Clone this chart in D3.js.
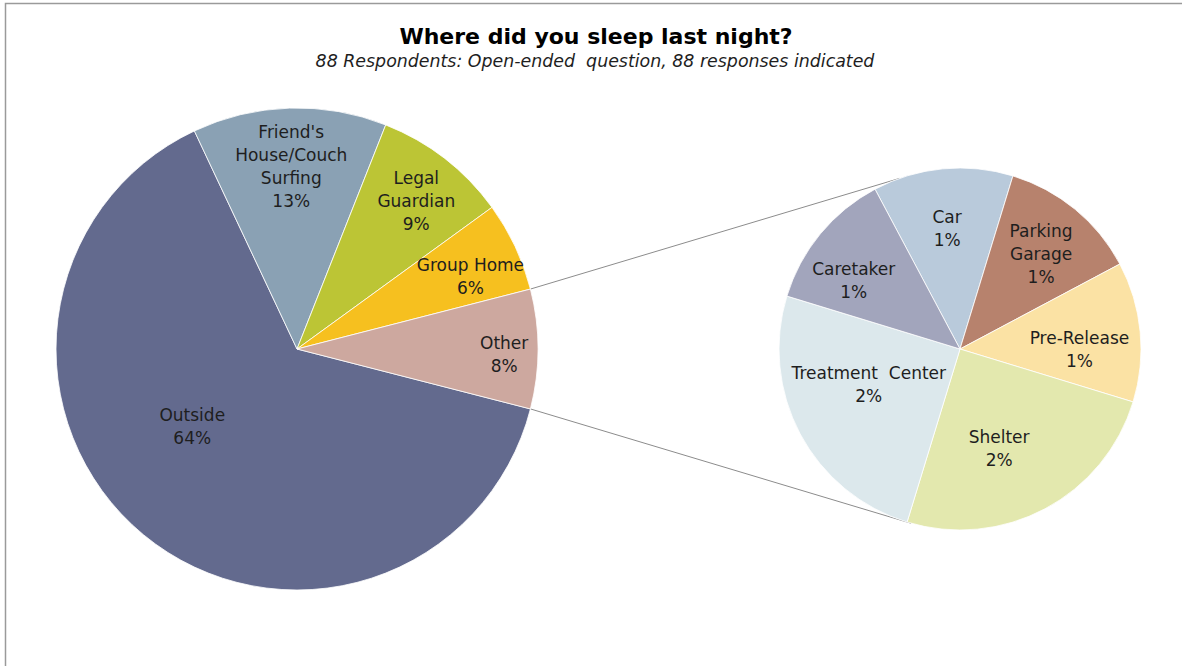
<!DOCTYPE html>
<html>
<head>
<meta charset="utf-8">
<script src="https://cdn.jsdelivr.net/npm/d3@7/dist/d3.min.js"></script>
<style>
  html, body { margin: 0; padding: 0; background: #fff; }
  svg { display: block; }
  text { font-family: "DejaVu Sans", sans-serif; fill: #1e1e1e; white-space: pre; }
</style>
</head>
<body>
<svg id="chart" width="1182" height="666"></svg>
<script>
// Where respondents slept: primary breakdown (percent of responses)
const mainCategories = ["Outside", "Friend's House/Couch Surfing", "Legal Guardian", "Group Home", "Other"];
const mainValues = [64, 13, 9, 6, 8];
const mainLabelLines = [["Outside"], ["Friend's", "House/Couch", "Surfing"], ["Legal", "Guardian"], ["Group Home"], ["Other"]];

// Breakdown of the "Other" slice
const detailCategories = ["Car", "Parking Garage", "Pre-Release", "Shelter", "Treatment Center", "Caretaker"];
const detailValues = [1, 1, 1, 2, 2, 1];
const detailLabelLines = [["Car"], ["Parking", "Garage"], ["Pre-Release"], ["Shelter"], ["Treatment  Center"], ["Caretaker"]];

const titleText = "Where did you sleep last night?";
const subtitleText = "88 Respondents: Open-ended  question, 88 responses indicated";

// Styling / layout
const mainColors = ["#636a8e", "#8aa1b4", "#bcc535", "#f6c01f", "#cda89f"];
const detailColors = ["#b9cadb", "#b7826d", "#fbe2a4", "#e3e8ae", "#dce8ec", "#a2a5bc"];
// label placement: fraction of radius and angular shift (deg) from the slice middle
const mainLabelPos = [[0.54, 14], [0.76, 0], [0.79, 1], [0.78, 2.5], [0.86, 1.4]];
const detailLabelPos = [[0.67, -0.6], [0.69, 1], [0.66, 5.5], [0.59, 6.5], [0.54, 7], [0.70, -6.5]];

const deg = Math.PI / 180;
const svg = d3.select("#chart");

// chart frame
svg.append("rect")
  .attr("x", 5.5).attr("y", 3.5).attr("width", 1300).attr("height", 800)
  .attr("fill", "none").attr("stroke", "#9a9a9a").attr("stroke-width", 1.5);

svg.append("text")
  .attr("x", 596).attr("y", 44)
  .attr("text-anchor", "middle")
  .style("font-weight", "bold").style("font-size", "22px").style("fill", "#000")
  .text(titleText);

svg.append("text")
  .attr("x", 595).attr("y", 67)
  .attr("text-anchor", "middle")
  .style("font-style", "italic").style("font-size", "17.4px")
  .text(subtitleText);

const main = { cx: 297, cy: 349, r: 241 };
const detail = { cx: 960, cy: 349, r: 181 };

// primary pie: "Other" slice centred on 3 o'clock
const mainTotal = d3.sum(mainValues);
const otherSpan = 2 * Math.PI * mainValues[mainValues.length - 1] / mainTotal;
const mainStart = Math.PI / 2 + otherSpan / 2;
const mainPie = d3.pie().sort(null).value(d => d)
  .startAngle(mainStart).endAngle(mainStart + 2 * Math.PI);
const mainArcs = mainPie(mainValues);

const detailStart = -28 * deg;
const detailPie = d3.pie().sort(null).value(d => d)
  .startAngle(detailStart).endAngle(detailStart + 2 * Math.PI);
const detailArcs = detailPie(detailValues);

function polar(c, rr, a) {
  return [c.cx + rr * Math.sin(a), c.cy - rr * Math.cos(a)];
}

// connector lines between "Other" and the breakdown pie
const otherArc = mainArcs[mainArcs.length - 1];
const connectors = [
  [polar(main, main.r, otherArc.startAngle), polar(detail, detail.r, 340.5 * deg)],
  [polar(main, main.r, otherArc.endAngle), polar(detail, detail.r, 195.7 * deg)]
];
svg.append("g").selectAll("line").data(connectors).join("line")
  .attr("x1", d => d[0][0]).attr("y1", d => d[0][1])
  .attr("x2", d => d[1][0]).attr("y2", d => d[1][1])
  .attr("stroke", "#8c8c8c").attr("stroke-width", 1);

function drawPie(c, arcs, colors, lines, pos) {
  const g = svg.append("g").attr("transform", `translate(${c.cx},${c.cy})`);
  const arc = d3.arc().innerRadius(0).outerRadius(c.r);
  g.selectAll("path").data(arcs).join("path")
    .attr("d", arc)
    .attr("fill", (d, i) => colors[i])
    .attr("stroke", "#ffffff").attr("stroke-width", 0.8);

  const lh = 23;
  arcs.forEach((d, i) => {
    const mid = (d.startAngle + d.endAngle) / 2 + pos[i][1] * deg;
    const rr = c.r * pos[i][0];
    const x = rr * Math.sin(mid), y = -rr * Math.cos(mid);
    const textLines = lines[i].concat([d.data + "%"]);
    const t = g.append("text")
      .attr("text-anchor", "middle")
      .style("font-size", "17px");
    textLines.forEach((s, k) => {
      t.append("tspan")
        .attr("x", x)
        .attr("y", y + (k - (textLines.length - 1) / 2) * lh)
        .attr("dy", "0.36em")
        .text(s);
    });
  });
}

drawPie(main, mainArcs, mainColors, mainLabelLines, mainLabelPos);
drawPie(detail, detailArcs, detailColors, detailLabelLines, detailLabelPos);
</script>
</body>
</html>
